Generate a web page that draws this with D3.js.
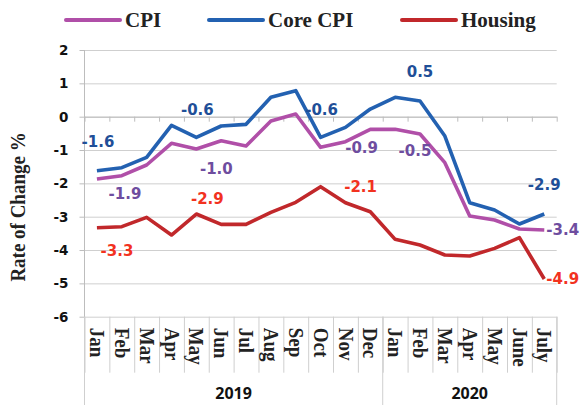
<!DOCTYPE html>
<meta charset="utf-8">
<script src="https://d3js.org/d3.v7.min.js"></script>
<style>
  body { margin: 0; background: #fff; }
</style>
<div id="my_dataviz"></div>
<script>

// data
var months = ["Jan", "Feb", "Mar", "Apr", "May", "Jun", "Jul", "Aug", "Sep", "Oct", "Nov", "Dec",
              "Jan", "Feb", "Mar", "Apr", "May", "June", "July"];
var yearLabels = ["2019", "2020"];
var yearLengths = [12, 7];
var cpi     = [-1.87, -1.77, -1.45, -0.80, -0.97, -0.72, -0.88, -0.13, 0.08, -0.92, -0.75, -0.38,
               -0.38, -0.52, -1.38, -2.98, -3.10, -3.37, -3.40];
var coreCpi = [-1.62, -1.53, -1.22, -0.26, -0.62, -0.28, -0.23, 0.58, 0.78, -0.62, -0.32, 0.23,
               0.58, 0.47, -0.58, -2.58, -2.80, -3.22, -2.92];
var housing = [-3.33, -3.30, -3.02, -3.55, -2.92, -3.23, -3.23, -2.87, -2.57, -2.10, -2.58, -2.85,
               -3.68, -3.85, -4.15, -4.18, -3.95, -3.63, -4.87];
var yTicks = [2, 1, 0, -1, -2, -3, -4, -5, -6];
var seriesNames = ["CPI", "Core CPI", "Housing"];
// months that carry a value label
var cpiLabelAt = [0, 4, 9, 13, 18];
var coreLabelAt = [0, 4, 9, 13, 18];
var housingLabelAt = [0, 4, 9, 18];

// set the dimensions and margins of the graph
var margin = {top: 50, right: 24.3, bottom: 88.3, left: 84.5},
    width = 581 - margin.left - margin.right,
    height = 405 - margin.top - margin.bottom;

var svg = d3.select("#my_dataviz")
  .append("svg")
    .attr("width", 581)
    .attr("height", 405)
  .append("g")
    .attr("transform", "translate(" + margin.left + "," + margin.top + ")");

var lineColor  = ["#b04fa8", "#2361b1", "#c1282b"];
var labelColor = ["#6e4d9f", "#1f4f98", "#f2321f"];
var grey = "#cfcfcf";

// scales
var x = d3.scaleBand().domain(d3.range(months.length)).range([0, width]);
var xEdge = d3.scaleLinear().domain([0, months.length]).range([0, width]);
var y = d3.scaleLinear().domain([-6, 2]).range([height, 0]);

// gridlines
svg.append("g")
  .call(d3.axisLeft(y).tickValues(yTicks).tickSize(-width).tickFormat(""))
  .call(function(g) { g.select(".domain").remove(); })
  .selectAll("line").attr("stroke", grey);

// Y axis
var yAxis = svg.append("g")
  .call(d3.axisLeft(y).tickValues(yTicks).tickSize(5).tickPadding(11).tickFormat(d3.format("d")));
yAxis.select(".domain").attr("stroke", "#bdbdbd").attr("d", "M0,0V" + (height + 88.3));
yAxis.selectAll("line").attr("stroke", "#bdbdbd");
yAxis.selectAll("text")
  .text(function(d) { return String(d); })
  .attr("font-family", "DejaVu Sans")
  .attr("font-weight", "bold")
  .attr("font-size", "13.5px")
  .attr("fill", "#111");

// zero line with ticks at month boundaries
var zero = svg.append("g")
  .attr("transform", "translate(0," + y(0) + ")")
  .call(d3.axisBottom(xEdge).tickValues(d3.range(months.length + 1)).tickSize(5).tickSizeOuter(0).tickFormat(""));
zero.select(".domain").attr("stroke", "#bdbdbd");
zero.selectAll("line").attr("stroke", "#bdbdbd");

// month separators under the plot
var sep = svg.append("g")
  .attr("transform", "translate(0," + height + ")")
  .call(d3.axisBottom(xEdge).tickValues(d3.range(months.length + 1)).tickSize(56).tickSizeOuter(0).tickFormat(""));
sep.select(".domain").remove();
sep.selectAll("line").attr("stroke", grey);

// year separators
var yearEdges = [0];
yearLengths.forEach(function(n, i) { yearEdges.push(yearEdges[i] + n); });
svg.selectAll(".yearsep")
  .data(yearEdges)
  .enter()
  .append("line")
    .attr("x1", function(d) { return xEdge(d); })
    .attr("x2", function(d) { return xEdge(d); })
    .attr("y1", height)
    .attr("y2", height + 88.3)
    .attr("stroke", grey);

// month labels
svg.selectAll(".month")
  .data(months)
  .enter()
  .append("text")
    .attr("transform", function(d, i) {
      return "translate(" + (x(i) + x.bandwidth() / 2) + "," + (height + 11) + ")rotate(90)scale(1,1.1)";
    })
    .attr("dy", "0.33em")
    .text(function(d) { return d; })
    .attr("font-family", "Liberation Serif")
    .attr("font-weight", "bold")
    .attr("font-size", "19px")
    .attr("fill", "#222");

// year labels
svg.selectAll(".year")
  .data(yearLabels)
  .enter()
  .append("text")
    .attr("x", function(d, i) { return (xEdge(yearEdges[i]) + xEdge(yearEdges[i + 1])) / 2; })
    .attr("y", height + 82.5)
    .style("text-anchor", "middle")
    .text(function(d) { return d; })
    .attr("font-family", "Open Sans")
    .attr("font-weight", "bold")
    .attr("font-size", "16px")
    .attr("fill", "#111");

// y axis title
svg.append("text")
  .attr("transform", "translate(" + (25 - margin.left) + "," + (207 - margin.top) + ")rotate(-90)scale(1,1.12)")
  .style("text-anchor", "middle")
  .text("Rate of Change %")
  .attr("font-family", "Liberation Serif")
  .attr("font-weight", "bold")
  .attr("font-size", "19px")
  .attr("fill", "#222");

// lines
var line = d3.line()
  .x(function(d, i) { return x(i) + x.bandwidth() / 2; })
  .y(function(d) { return y(d); });

var allSeries = [cpi, coreCpi, housing];
allSeries.forEach(function(s, k) {
  svg.append("path")
    .datum(s)
    .attr("fill", "none")
    .attr("stroke", lineColor[k])
    .attr("stroke-width", 3.6)
    .attr("stroke-linejoin", "round")
    .attr("d", line);
});

// value labels (offset from their point)
var offsets = {
  "0-0": [28, 15], "0-4": [20, 20], "0-9": [41, 0], "0-13": [-5, 17], "0-18": [18, 0, "start"],
  "1-0": [1, -29], "1-4": [1, -28], "1-9": [1, -28], "1-13": [0, -29], "1-18": [0, -29],
  "2-0": [20, 23], "2-4": [11, -15], "2-9": [40, 0], "2-18": [18, 0, "start"]
};
[cpiLabelAt, coreLabelAt, housingLabelAt].forEach(function(idx, k) {
  svg.selectAll(".lab" + k)
    .data(idx)
    .enter()
    .append("text")
      .attr("x", function(i) { return x(i) + x.bandwidth() / 2 + offsets[k + "-" + i][0]; })
      .attr("y", function(i) { return y(allSeries[k][i]) + offsets[k + "-" + i][1]; })
      .attr("dy", "0.36em")
      .style("text-anchor", function(i) { return offsets[k + "-" + i][2] ? "start" : "middle"; })
      .attr("dx", function(i) { return offsets[k + "-" + i][2] ? -16 : 0; })
      .text(function(i) { return allSeries[k][i].toFixed(1); })
      .attr("font-family", "DejaVu Sans")
      .attr("font-weight", "bold")
      .attr("font-size", "15px")
      .attr("fill", labelColor[k]);
});

// legend
var legendX = [66, 209, 402];
var legend = svg.selectAll(".legend")
  .data(seriesNames)
  .enter()
  .append("g")
    .attr("transform", function(d, i) { return "translate(" + (legendX[i] - margin.left) + "," + (20 - margin.top) + ")"; });
legend.append("line")
  .attr("x1", 0).attr("x2", 54)
  .attr("stroke", function(d, i) { return lineColor[i]; })
  .attr("stroke-width", 4)
  .attr("stroke-linecap", "round");
legend.append("text")
  .attr("x", 59)
  .attr("y", 7)
  .text(function(d) { return d; })
  .attr("font-family", "Liberation Serif")
  .attr("font-weight", "bold")
  .attr("font-size", "21px")
  .attr("fill", "#222");

</script>
